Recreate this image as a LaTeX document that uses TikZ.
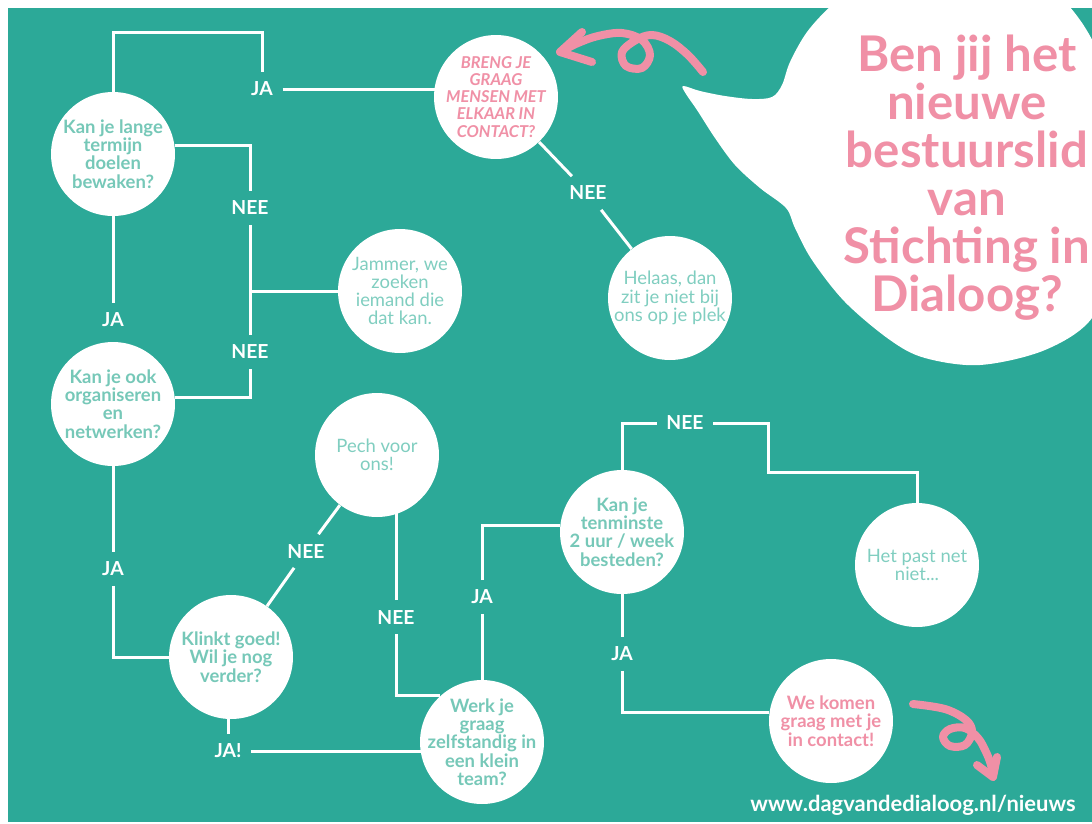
\documentclass[tikz,border=0pt]{standalone}
\usepackage{fontspec}
\setmainfont{Lato}
\usetikzlibrary{backgrounds}
\definecolor{dlgteal}{RGB}{44,169,152}
\definecolor{dlgpink}{RGB}{240,144,166}
\definecolor{dlgq}{RGB}{118,200,184}
\definecolor{dlgtxt}{RGB}{128,206,192}
\tikzset{
  vraag/.style={circle, fill=white, minimum size=2.48cm, inner sep=-0.4cm, align=center, text=dlgq, font=\bfseries\fontsize{10.5}{10.4}\selectfont},
  eind/.style={vraag, text=dlgtxt, font=\fontsize{10.5}{10.4}\selectfont},
  roze/.style={vraag, text=dlgpink},
  antw/.style={inner sep=0.19cm, text=white, font=\bfseries\fontsize{11}{12}\selectfont},
  lijn/.style={draw=white, line width=0.06cm},
  pijl/.style={draw=dlgpink, line width=0.16cm, line cap=round, line join=round}
}
\begin{document}
\begin{tikzpicture}[x=0.02cm, y=-0.02cm]
\useasboundingbox (0,0) rectangle (1092,823);
\node[vraag] (q1) at (113,154) {Kan je lange\\termijn\\doelen\\bewaken?};
\node[roze, font=\bfseries\itshape\fontsize{9.3}{9.7}\selectfont] (q2) at (496,97) {BRENG JE\\GRAAG\\MENSEN MET\\ELKAAR IN\\CONTACT?};
\node[eind] (e1) at (400,291) {Jammer, we\\zoeken\\iemand die\\dat kan.};
\node[eind] (e2) at (670,298) {Helaas, dan\\zit je niet bij\\ons op je plek};
\node[vraag] (q3) at (113,404) {Kan je ook\\organiseren\\en\\netwerken?};
\node[eind] (e3) at (377,455) {Pech voor\\ons!};
\node[vraag] (q4) at (231,657) {Klinkt goed!\\Wil je nog\\verder?};
\node[vraag] (q5) at (482,742) {Werk je\\graag\\zelfstandig in\\een klein\\team?};
\node[vraag] (q6) at (622,532) {Kan je\\tenminste\\2 uur / week\\besteden?};
\node[eind] (e4) at (917,565) {Het past net\\niet...};
\node[roze] (e5) at (831,721) {We komen\\graag met je\\in contact!};
\node[antw] (ja1) at (262,89) {JA};
\node[antw] (nee1) at (250,208) {NEE};
\node[antw] (nee2) at (250,352) {NEE};
\node[antw] (ja2) at (113,320) {JA};
\node[antw] (ja3) at (113,569) {JA};
\node[antw] (nee3) at (306,551) {NEE};
\node[antw] (nee4) at (396,617) {NEE};
\node[antw] (ja4) at (228,751) {JA!};
\node[antw] (ja5) at (482,597) {JA};
\node[antw] (nee5) at (685,423) {NEE};
\node[antw] (ja6) at (622,654) {JA};
\node[antw] (nee6) at (588,193) {NEE};
\node[text=dlgpink, align=center, font=\bfseries\fontsize{28}{27.3}\selectfont] (kop) at (967,178) {Ben jij het\\nieuwe\\bestuurslid\\van\\Stichting in\\Dialoog?};
\node[text=white, font=\bfseries\fontsize{12.5}{14}\selectfont] (url) at (913,805) {www.dagvandedialoog.nl/nieuws};
\coordinate (c1) at (262,32);
\coordinate (j1) at (250,291);
\coordinate (c2) at (768,472);
\begin{scope}[on background layer]
\fill[white] (0,0) rectangle (1092,823);
\fill[dlgteal] (8,8) rectangle (1092,822);
\begin{scope}
\clip (8,8) rectangle (1092,822);
\fill[white] plot[smooth cycle, tension=0.55] coordinates {(683,86) (700,91) (725,96) (752,99) (772,97) (782,85) (790,62) (807,32) (832,5) (870,-25) (950,-40) (1040,-15) (1080,20) (1108,80) (1118,170) (1110,260) (1092,318) (1045,350) (980,365) (925,358) (890,340) (845,302) (812,260) (795,228) (786,208) (760,188) (735,165) (715,138) (697,110) (686,94)};
\end{scope}
\draw[lijn] (q1) |- (c1) -- (ja1);
\draw[lijn] (ja1) -- (ja1 -| q2);
\draw[lijn] (q1.8) -| (nee1);
\draw[lijn] (nee1) -- (j1) -- (e1);
\draw[lijn] (q3.6) -| (nee2);
\draw[lijn] (nee2) -- (j1);
\draw[lijn] (q1) -- (ja2);
\draw[lijn] (q3) -- (ja3);
\draw[lijn] (ja3) |- (q4);
\draw[lijn] (q4) -- (nee3);
\draw[lijn] (nee3) -- (e3);
\draw[lijn] (nee4) -- (nee4 |- e3);
\draw[lijn] (nee4) |- (q5.132);
\draw[lijn] (ja4) -- (ja4 |- q4);
\draw[lijn] (ja4) -- (ja4 -| q5);
\draw[lijn] (ja5) -- (ja5 |- q5);
\draw[lijn] (ja5) |- (q6.174);
\draw[lijn] (q6) |- (nee5);
\draw[lijn] (nee5) -| (c2) -| (e4);
\draw[lijn] (q6) -- (ja6);
\draw[lijn] (ja6) |- (e5.172);
\draw[lijn] (q2) -- (nee6);
\draw[lijn] (nee6) -- (e2);
\end{scope}
\draw[pijl] plot[smooth, tension=0.6] coordinates {(703,72) (688,55) (670,41) (652,35) (636,40) (622,52) (626,66) (642,68) (650,55) (642,40) (622,33) (598,36) (578,43) (562,51)};
\draw[pijl] (582,32) -- (560,52) -- (592,62);
\draw[pijl] plot[smooth, tension=0.6] coordinates {(913,704) (945,709) (966,720) (972,732) (965,745) (950,746) (943,737) (950,729) (965,728) (978,738) (986,752) (991,765) (993,777)};
\draw[pijl] (977,765) -- (993,777) -- (997,757);
\end{tikzpicture}
\end{document}
